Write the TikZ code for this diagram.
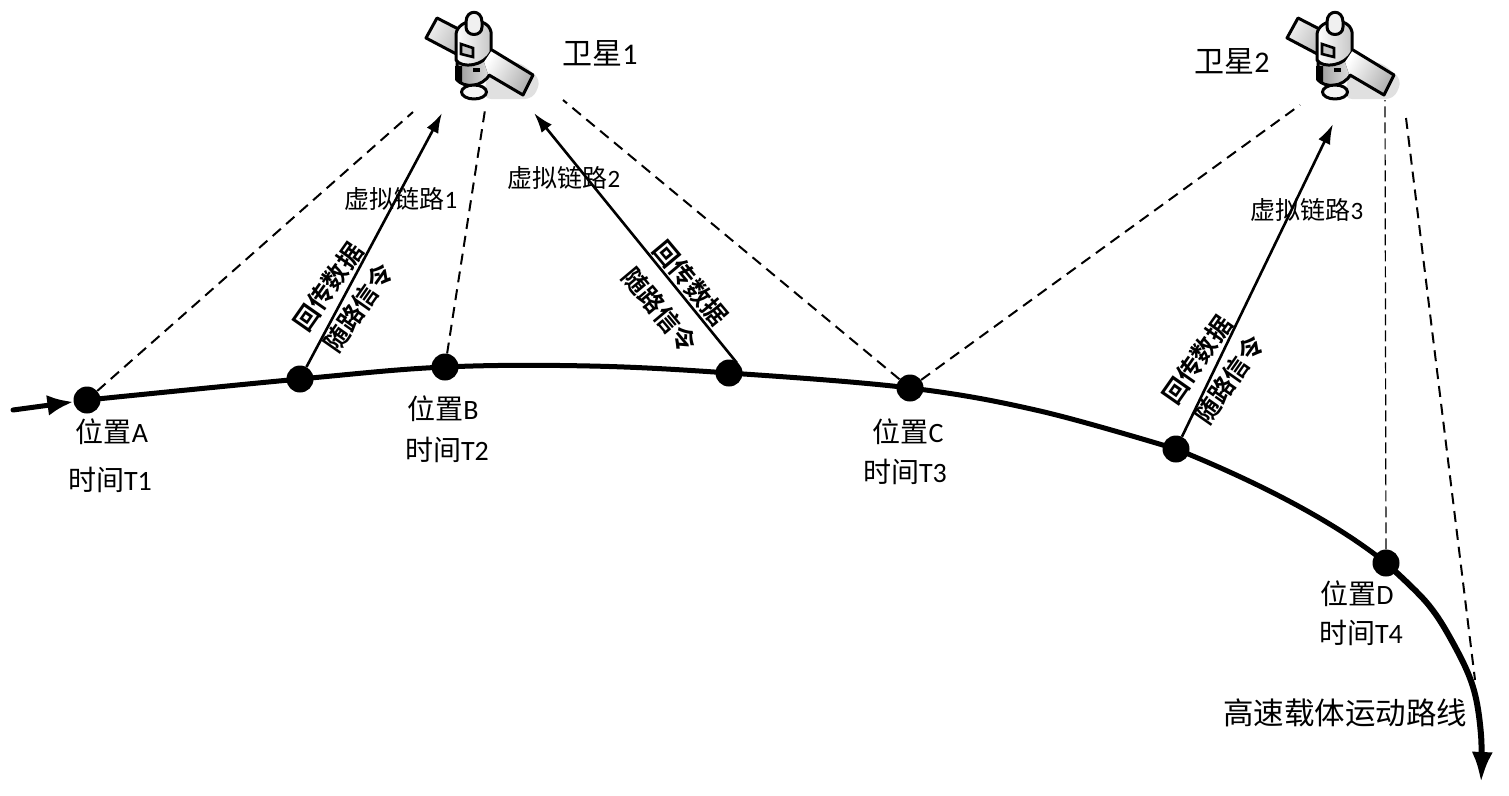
\documentclass[tikz,border=0pt]{standalone}
\usepackage{fontspec}
\setmainfont{Carlito}
\newfontfamily\cjk{Noto Sans CJK SC}[BoldFont={Noto Sans CJK SC Bold}]
\usetikzlibrary{arrows.meta,calc}
\tikzset{
  dot/.style={circle,fill=black,inner sep=0pt,minimum size=27pt},
  track/.style={line width=5pt,line cap=round},
  hop/.style={line width=2.6pt,-{Latex[length=20pt,width=13pt]}},
  sight/.style={line width=2pt,dash pattern=on 11pt off 7pt},
  sightthin/.style={line width=1.2pt,dash pattern=on 11pt off 5pt},
  lab/.style={font=\fontsize{28}{30}\selectfont,inner sep=0pt,align=center},
  link/.style={font=\fontsize{25}{28}\selectfont,inner sep=0pt},
  sat/.style={font=\fontsize{30}{32}\selectfont,inner sep=0pt},
  flow/.style={font=\cjk\bfseries\fontsize{25}{26}\selectfont,inner sep=0pt},
  outl/.style={draw=black,line width=3pt,line join=round},
  satellite/.pic={
    % soft shadow
    \fill[black!12,rounded corners=8pt] (483,99) -- (533,99) -- (541,80) -- (520,62) -- (490,62) -- cycle;
    % left panel
    \draw[outl,left color=black!6,right color=black!30,shading angle=60] (437,18) -- (426,38) -- (462,57) -- (470,35) -- cycle;
    % lower body and dark strip
    \draw[outl,left color=black!40,right color=black!12] (457,60) -- (457,80) .. controls (464,88) and (482,88) .. (490,74) -- (490,58) -- cycle;
    \fill[black] (455,66) -- (462,66) -- (462,84) -- (455,80) -- cycle;
    \fill[black] (473,68) rectangle (480,72);
    % upper body
    \draw[outl,left color=white,right color=black!22] (456,34) -- (456,60) .. controls (462,69) and (484,66) .. (491,52) -- (491,32) .. controls (488,16) and (458,18) .. (456,34) -- cycle;
    \draw[line width=2.6pt,fill=black!22] (461,44) -- (473,48) -- (473,57) -- (461,54) -- cycle;
    % right panel
    \fill[left color=white,right color=black!32,shading angle=60] (492,50) -- (533,75) -- (523,95) -- (488,74) -- (484,62) -- cycle;
    \draw[outl,line cap=round] (492,50) -- (533,75) -- (523,95) -- (489,75);
    % foot and nozzle
    \draw[outl,fill=black!4] (474,92) ellipse (12.5pt and 7pt);
    \draw[outl,fill=black!6] (466,22) .. controls (466,9) and (482,9) .. (482,22) -- (482,27) .. controls (482,37) and (466,37) .. (466,27) -- cycle;
  }
}
\begin{document}
\begin{tikzpicture}[x=1pt,y=-1pt]
\useasboundingbox (0,0) rectangle (1509,795);
\fill[white] (0,0) rectangle (1509,795);

\pic (satA) at (0,0) {satellite};
\pic (satB) at (861,0) {satellite};

% route
\coordinate (start) at (13,410);
\coordinate (q1) at (590,366);
\coordinate (q2) at (1040,411);
\coordinate (q4) at (1427,603);
\coordinate (q5) at (1453,643);
\coordinate (q6) at (1473,687);
\coordinate (q7) at (1481,735);
\coordinate (finish) at (1481,783);
\node[dot] (a) at (87,400) {};
\node[dot] (a2) at (300,379) {};
\node[dot] (b) at (445,367) {};
\node[dot] (b2) at (729,373) {};
\node[dot] (c) at (910,388) {};
\node[dot] (c2) at (1176,449) {};
\node[dot] (d) at (1386,563) {};
\coordinate (b2top) at ($(b2.center)+(8,-10)$);

\draw[track,-{Latex[length=26pt,width=21pt]}] (start) -- (a);
\draw[track] plot[smooth,tension=0.6] coordinates {(a.center) (a2.center) (b.center) (q1) (b2.center) (c.center) (q2) (c2.center)};
\draw[track] (c2.center) .. controls (1260,483) and (1335,522) .. (d.center);
\draw[line width=6pt,-{Latex[length=31pt,width=21pt]}] plot[smooth,tension=0.6] coordinates {(d.center) (q4) (q5) (q6) (q7) (finish)};

% free ends near the satellites
\coordinate (s1a) at (413,112);
\coordinate (s1b) at (485,110);
\coordinate (s1c) at (563,100);
\coordinate (s1u) at (442,113);
\coordinate (s1v) at (534,113);
\coordinate (s2a) at (1300,105);
\coordinate (s2u) at (1333,124);
\coordinate (s2b) at (1385,100);
\coordinate (s2c) at (1406,118);
\coordinate (e) at (1475,680);

\draw[sight] (a) -- (s1a);
\draw[sight] (b) -- (s1b);
\draw[sight] (c) -- (s1c);
\draw[sight] (c) -- (s2a);
\draw[sightthin] (d) -- (s2b);
\draw[sight] (s2c) -- (e);

\draw[hop] (a2) -- (s1u);
\draw[hop] (b2top) -- (s1v);
\draw[hop] (c2) -- (s2u);

% labels
\node[sat] (l1) at (600,53) {{\cjk 卫星}1};
\node[sat] (l2) at (1232,61) {{\cjk 卫星}2};
\node[link] (v1) at (401,199) {{\cjk 虚拟链路}1};
\node[link] (v2) at (564,178) {{\cjk 虚拟链路}2};
\node[link] (v3) at (1307,210) {{\cjk 虚拟链路}3};
\node[lab] (pa) at (112,432) {{\cjk 位置}A};
\node[lab] (ta) at (110,480) {{\cjk 时间}T1};
\node[lab] (pb) at (443,409) {{\cjk 位置}B};
\node[lab] (tb) at (447,450) {{\cjk 时间}T2};
\node[lab] (pc) at (908,432) {{\cjk 位置}C};
\node[lab] (tc) at (905,472) {{\cjk 时间}T3};
\node[lab] (pd) at (1357,594) {{\cjk 位置}D};
\node[lab] (td) at (1361,633) {{\cjk 时间}T4};
\node[lab,font=\cjk\fontsize{30.5}{32}\selectfont] (route) at (1345,713) {高速载体运动路线};

\node[flow,rotate=55] (f1) at (328,287) {回传数据};
\node[flow,rotate=55] (g1) at (358,308) {随路信令};
\node[flow,rotate=-50] (f2) at (691,283) {回传数据};
\node[flow,rotate=-50] (g2) at (660,310) {随路信令};
\node[flow,rotate=55] (f3) at (1197,360) {回传数据};
\node[flow,rotate=55] (g3) at (1229,380) {随路信令};
\end{tikzpicture}
\end{document}
